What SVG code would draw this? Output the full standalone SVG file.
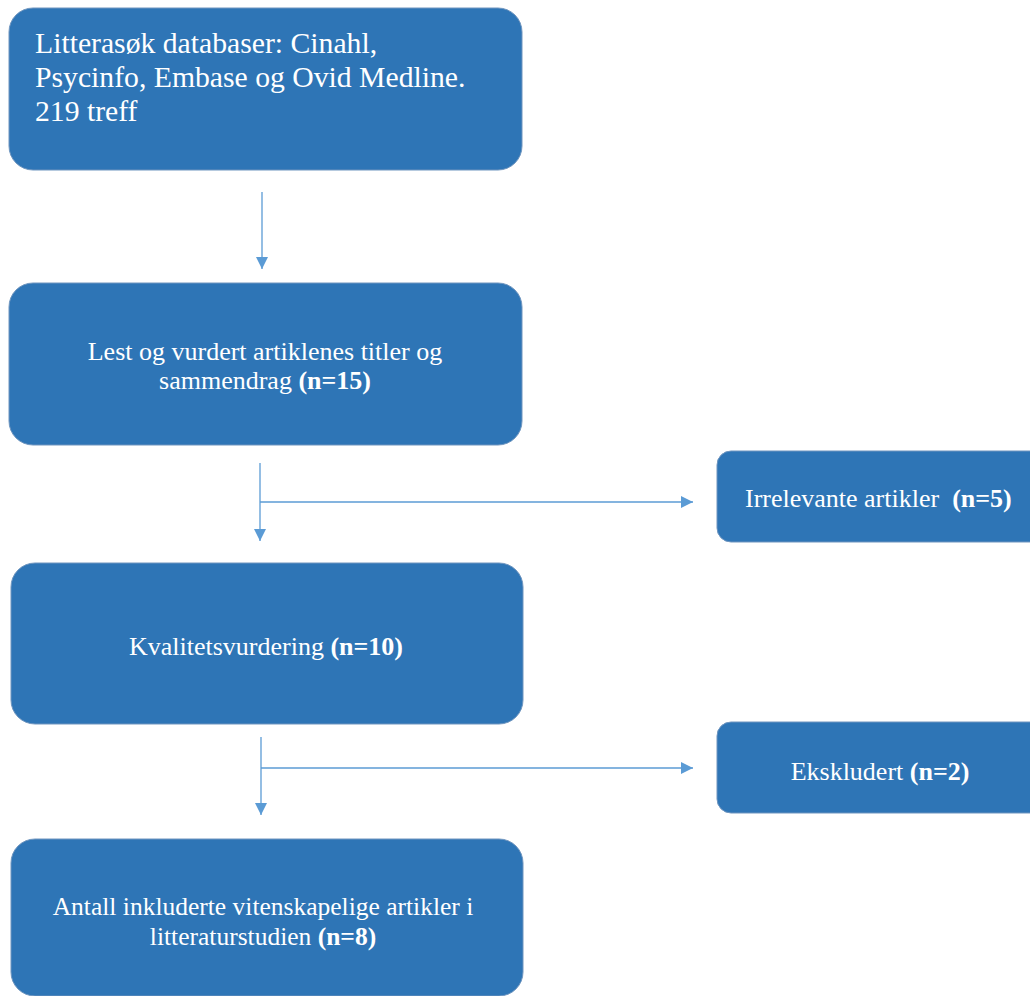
<svg xmlns="http://www.w3.org/2000/svg" width="1030" height="996" viewBox="0 0 1030 996">
<defs>
<style>
.box{fill:#2E75B6;stroke:#6f95bf;stroke-width:1}
.t{font-family:"Liberation Serif","Times New Roman",serif;fill:#ffffff;font-size:26px}
.t1{font-family:"Liberation Serif","Times New Roman",serif;fill:#ffffff;font-size:29.7px}
.c{text-anchor:middle}
.b{font-weight:bold}
.ln{stroke:#5B9BD5;stroke-width:1.3;fill:none}
</style>
<marker id="ah" viewBox="0 0 10 10" refX="10" refY="5" markerWidth="12" markerHeight="12" markerUnits="userSpaceOnUse" orient="auto">
<path d="M0,0 L10,5 L0,10 z" fill="#5B9BD5"/>
</marker>
</defs>
<rect width="1030" height="996" fill="#ffffff"/>
<g id="connectors">
<line class="ln" x1="262" y1="192" x2="262" y2="269" marker-end="url(#ah)"/>
<line class="ln" x1="260" y1="463" x2="260" y2="541" marker-end="url(#ah)"/>
<line class="ln" x1="260" y1="502" x2="693" y2="502" marker-end="url(#ah)"/>
<line class="ln" x1="261" y1="737" x2="261" y2="815" marker-end="url(#ah)"/>
<line class="ln" x1="261" y1="768" x2="693" y2="768" marker-end="url(#ah)"/>
</g>
<g id="n1">
<rect class="box" x="9" y="8" width="513" height="162" rx="24"/>
<text class="t1" x="35" y="53">Litterasøk databaser: Cinahl,</text>
<text class="t1" x="35" y="87">Psycinfo, Embase og Ovid Medline.</text>
<text class="t1" x="35" y="121">219 treff</text>
</g>
<g id="n2">
<rect class="box" x="9" y="283" width="513" height="162" rx="24"/>
<text class="t c" x="265" y="360">Lest og vurdert artiklenes titler og</text>
<text class="t c" x="265" y="389">sammendrag <tspan class="b">(n=15)</tspan></text>
</g>
<g id="n3">
<rect class="box" x="717" y="451" width="330" height="91" rx="14"/>
<text class="t" x="745" y="507" xml:space="preserve">Irrelevante artikler  <tspan class="b">(n=5)</tspan></text>
</g>
<g id="n4">
<rect class="box" x="11" y="563" width="512" height="161" rx="24"/>
<text class="t c" x="266" y="655">Kvalitetsvurdering <tspan class="b">(n=10)</tspan></text>
</g>
<g id="n5">
<rect class="box" x="717" y="722" width="330" height="91" rx="14"/>
<text class="t c" x="880" y="780">Ekskludert <tspan class="b">(n=2)</tspan></text>
</g>
<g id="n6">
<rect class="box" x="11" y="839" width="512" height="157" rx="24"/>
<text class="t c" x="263" y="915" style="font-size:25.5px">Antall inkluderte vitenskapelige artikler i</text>
<text class="t c" x="263" y="945" style="font-size:25.5px">litteraturstudien <tspan class="b">(n=8)</tspan></text>
</g>
</svg>
